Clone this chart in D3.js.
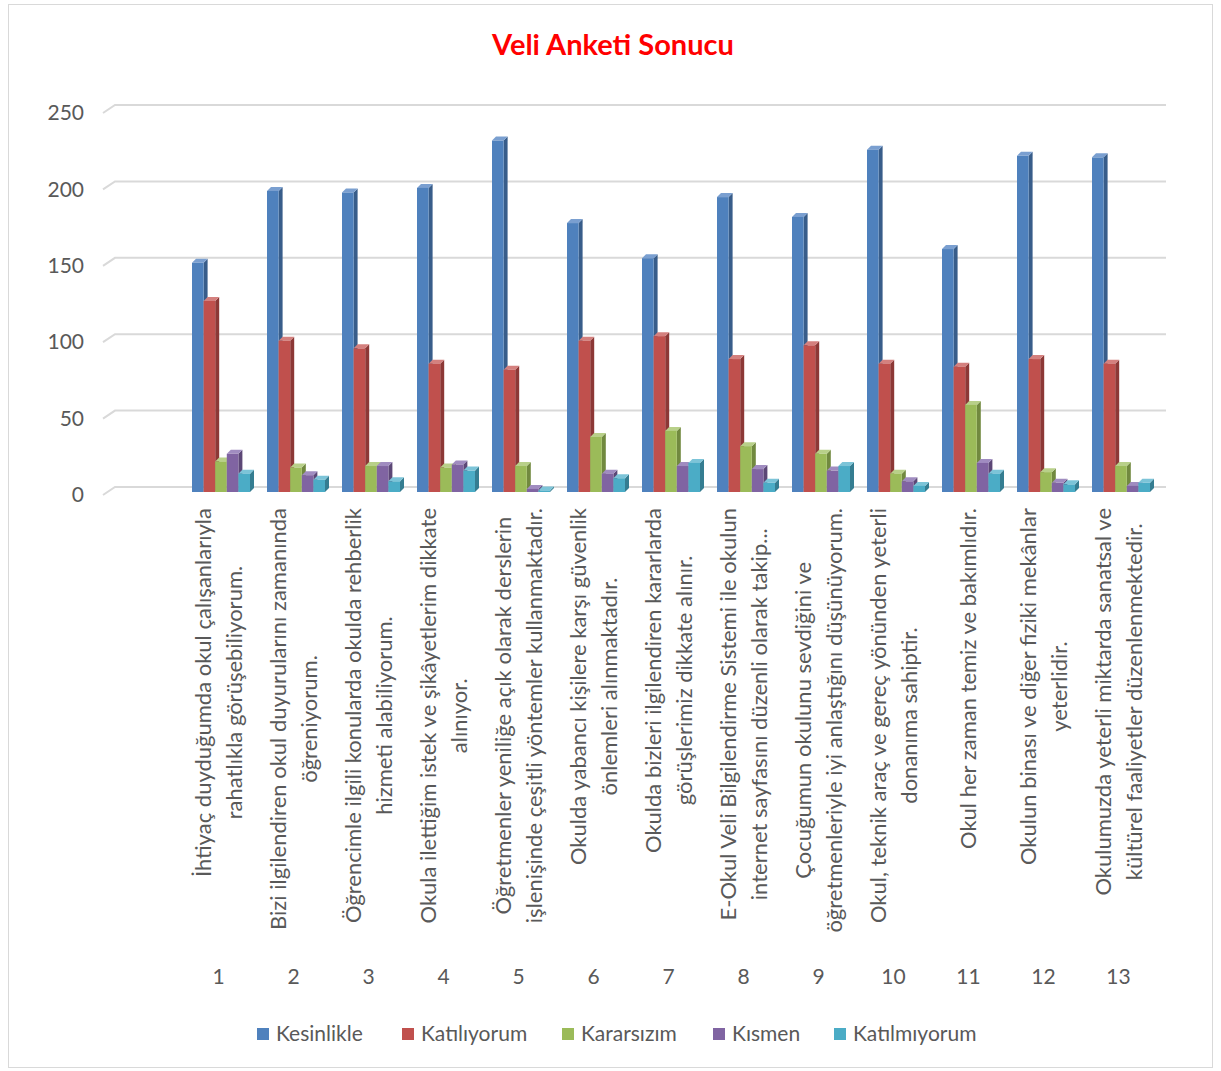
<!DOCTYPE html>
<html>
<head>
<meta charset="utf-8">
<script src="https://cdn.jsdelivr.net/npm/d3@7"></script>
<style>
  body { margin: 0; background: #fff; }
  text { font-family: Lato, "Open Sans", sans-serif; }
</style>
</head>
<body>
<div id="chart"></div>
<script>
// Chart data
const seriesNames = ["Kesinlikle", "Katılıyorum", "Kararsızım", "Kısmen", "Katılmıyorum"];
const seriesColors = ["#4F81BD", "#C0504D", "#9BBB59", "#8064A2", "#4BACC6"];
const sideColors = ["#385D8A", "#8C3836", "#71893F", "#5C4776", "#357D91"];
const topColors = ["#7A9FD0", "#D4807E", "#B8D089", "#A08CC0", "#7CC4D8"];

const categories = ["1", "2", "3", "4", "5", "6", "7", "8", "9", "10", "11", "12", "13"];
const categoryLabels = [
    ["İhtiyaç duyduğumda okul çalışanlarıyla", "rahatlıkla görüşebiliyorum."],
    ["Bizi ilgilendiren okul duyurularını zamanında", "öğreniyorum."],
    ["Öğrencimle ilgili konularda okulda rehberlik", "hizmeti alabiliyorum."],
    ["Okula ilettiğim istek ve şikâyetlerim dikkate", "alınıyor."],
    ["Öğretmenler yeniliğe açık olarak derslerin", "işlenişinde çeşitli yöntemler kullanmaktadır."],
    ["Okulda yabancı kişilere karşı güvenlik", "önlemleri alınmaktadır."],
    ["Okulda bizleri ilgilendiren kararlarda", "görüşlerimiz dikkate alınır."],
    ["E-Okul Veli Bilgilendirme Sistemi ile okulun", "internet sayfasını düzenli olarak takip..."],
    ["Çocuğumun okulunu  sevdiğini ve", "öğretmenleriyle iyi anlaştığını düşünüyorum."],
    ["Okul, teknik araç ve gereç yönünden yeterli", "donanıma sahiptir."],
    ["Okul her zaman temiz ve bakımlıdır."],
    ["Okulun binası ve diğer fiziki mekânlar", "yeterlidir."],
    ["Okulumuzda yeterli miktarda sanatsal ve", "kültürel faaliyetler düzenlenmektedir."]
];

const kesinlikle   = [150, 197, 196, 199, 230, 176, 153, 193, 180, 224, 159, 220, 219];
const katiliyorum  = [125, 99, 94, 84, 80, 99, 102, 87, 96, 84, 82, 87, 84];
const kararsizim   = [20, 16, 17, 16, 17, 36, 40, 30, 25, 12, 57, 13, 17];
const kismen       = [25, 11, 17, 18, 2, 12, 17, 15, 14, 7, 19, 6, 4];
const katilmiyorum = [12, 8, 7, 14, 1, 9, 19, 6, 17, 4, 12, 5, 6];
const seriesValues = [kesinlikle, katiliyorum, kararsizim, kismen, katilmiyorum];

const yTicks = [0, 50, 100, 150, 200, 250];

const width = 1221;
const height = 1071;
const depth = 4;       // 3D offset of the bars
const frontDrop = 5;   // front plane sits a bit below the back wall

const svg = d3.select("#chart")
    .append("svg")
    .attr("width", width)
    .attr("height", height);

// outer frame
svg.append("rect")
    .attr("x", 8.5).attr("y", 4.5)
    .attr("width", 1204).attr("height", 1063)
    .attr("fill", "#fff")
    .attr("stroke", "#D9D9D9")
    .attr("stroke-width", 1);

// scales (y is the back wall)
const yScale = d3.scaleLinear().domain([0, 250]).range([487, 105]);
const x0 = d3.scaleBand().domain(categories).range([181, 1156]);
const x1 = d3.scaleBand().domain(seriesNames).range([11, 69]);

// gridlines with the small left-wall diagonal
const grid = svg.append("g").attr("class", "grid");
yTicks.forEach(t => {
    const y = yScale(t);
    grid.append("path")
        .attr("d", `M103,${y + 8}L115,${y}L1166,${y}`)
        .attr("fill", "none")
        .attr("stroke", "#D9D9D9")
        .attr("stroke-width", 2);
});

// y axis labels
const yAxis = d3.axisLeft(yScale).tickValues(yTicks).tickSize(0).tickPadding(0);
const yg = svg.append("g")
    .attr("class", "y-axis")
    .attr("transform", "translate(84, 8)")
    .call(yAxis);
yg.select(".domain").remove();
yg.selectAll("text")
    .style("font-size", "21px")
    .attr("fill", "#595959");

// bars
const barData = [];
categories.forEach((c, i) => {
    seriesNames.forEach((s, j) => {
        barData.push({ cat: c, series: s, j: j, value: seriesValues[j][i] });
    });
});

const bars = svg.append("g").attr("class", "bars")
    .selectAll(".bar")
    .data(barData)
    .enter()
    .append("g")
    .attr("class", "bar");

bars.each(function (d) {
    const g = d3.select(this);
    const x = x0(d.cat) + x1(d.series);
    const w = x1.bandwidth();
    const yb = yScale(0) + frontDrop;
    const yt = yScale(d.value) + frontDrop;
    // side face
    g.append("path")
        .attr("d", `M${x + w},${yt}L${x + w + depth},${yt - depth}L${x + w + depth},${yb - depth}L${x + w},${yb}Z`)
        .attr("fill", sideColors[d.j]);
    // top face
    g.append("path")
        .attr("d", `M${x},${yt}L${x + depth},${yt - depth}L${x + w + depth},${yt - depth}L${x + w},${yt}Z`)
        .attr("fill", topColors[d.j]);
    // front face
    g.append("rect")
        .attr("x", x).attr("y", yt)
        .attr("width", w).attr("height", Math.max(0, yb - yt))
        .attr("fill", seriesColors[d.j]);
});

// rotated category labels
const labelTop = 508;
const lineGap = 31;
const labels = svg.append("g").attr("class", "cat-labels");
categories.forEach((c, i) => {
    const cx = x0(c) + x0.bandwidth() / 2;
    const lines = categoryLabels[i];
    const g = labels.append("g");
    const texts = lines.map((ln, k) => g.append("text")
        .attr("text-anchor", "middle")
        .attr("dy", "0.35em")
        .style("font-size", "22px")
        .attr("fill", "#595959")
        .text(ln));
    const maxW = d3.max(texts, t => t.node().getComputedTextLength());
    const cy = labelTop + maxW / 2;
    texts.forEach((t, k) => {
        const lx = cx + (k - (lines.length - 1) / 2) * lineGap;
        t.attr("transform", `translate(${lx},${cy}) rotate(-90)`);
    });
});

// category numbers
const xAxis = d3.axisBottom(x0).tickSize(0).tickPadding(0);
const xg = svg.append("g")
    .attr("class", "x-axis")
    .attr("transform", "translate(0, 969)")
    .call(xAxis);
xg.select(".domain").remove();
xg.selectAll("text")
    .style("font-size", "21px")
    .attr("fill", "#595959");

// legend
const legendX = [257, 402, 562, 713, 834];
const legend = svg.append("g").attr("class", "legend");
seriesNames.forEach((s, j) => {
    legend.append("rect")
        .attr("x", legendX[j]).attr("y", 1028)
        .attr("width", 12).attr("height", 12)
        .attr("fill", seriesColors[j]);
    legend.append("text")
        .attr("x", legendX[j] + 19).attr("y", 1034)
        .attr("dy", "0.35em")
        .style("font-size", "21px")
        .attr("fill", "#595959")
        .text(s);
});

// title
svg.append("text")
    .attr("x", 613).attr("y", 45)
    .attr("dy", "0.35em")
    .attr("text-anchor", "middle")
    .style("font-size", "29px")
    .style("font-weight", "bold")
    .attr("fill", "#FF0000")
    .text("Veli Anketi Sonucu");
</script>
</body>
</html>
